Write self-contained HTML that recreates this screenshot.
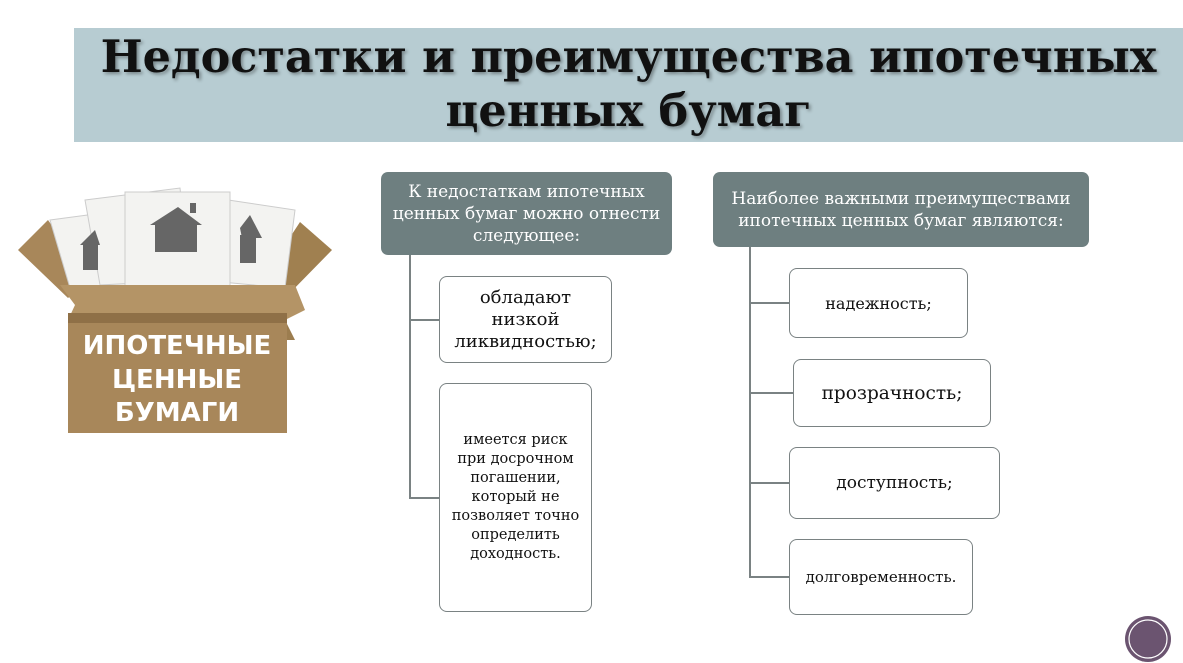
<!DOCTYPE html>
<html><head><meta charset="utf-8"><style>
body{margin:0;width:1183px;height:662px;background:#fff;position:relative;overflow:hidden;font-family:"DejaVu Serif","Liberation Serif",serif}
.a{position:absolute}
.t{left:74px;top:28px;width:1109px;height:114px;background:#b7ccd2}
.tt{left:74px;top:30px;width:1109px;text-align:center;font-size:44.5px;font-weight:bold;line-height:54px;color:#111;text-shadow:2px 2px 3px rgba(0,0,0,.35);white-space:nowrap}
.h{background:#6e7f80;color:#fff;border-radius:7px;display:flex;align-items:center;justify-content:center;text-align:center;font-size:17px;line-height:22px;white-space:nowrap}
.b{background:#fff;border:1.3px solid #7a8283;border-radius:8px;display:flex;align-items:center;justify-content:center;text-align:center;color:#111;box-sizing:border-box;white-space:nowrap}
.l{background:#7a8283}
</style></head><body>
<div class="a t"></div>
<div class="a tt">Недостатки и преимущества ипотечных<br>ценных бумаг</div>

<svg class="a" style="left:0;top:170px" width="350" height="280">
<polygon points="18,80 48,50 90,110 68,128" fill="#a8875a"/>
<polygon points="332,80 300,52 262,110 285,128" fill="#a08050"/>
<g fill="#f3f3f1" stroke="#ccc">
<polygon points="50,50 140,38 150,115 70,118"/>
<polygon points="85,30 180,18 190,110 100,115"/>
<polygon points="215,28 295,40 285,118 200,110"/>
<rect x="125" y="22" width="105" height="95"/>
</g>
<polygon points="82,150 285,150 295,170 70,170" fill="#9c7d4f"/>
<polygon points="60,115 295,115 305,140 285,150 68,150 75,135" fill="#b49466"/>
<rect x="68" y="143" width="219" height="120" fill="#a8875a"/>
<rect x="68" y="143" width="219" height="10" fill="#8f7047"/>
<g fill="#666"><polygon points="150,55 178,37 202,55"/><rect x="155" y="55" width="42" height="27"/><rect x="190" y="33" width="6" height="10"/>
<polygon points="80,75 95,60 100,75"/><rect x="83" y="75" width="15" height="25"/>
<polygon points="240,58 250,45 262,68 242,68"/><rect x="240" y="65" width="16" height="28"/></g>
<g font-family="DejaVu Sans,sans-serif" font-weight="bold" font-size="26" fill="#fff" text-anchor="middle">
<text x="177" y="184">ИПОТЕЧНЫЕ</text><text x="177" y="218">ЦЕННЫЕ</text><text x="177" y="251">БУМАГИ</text></g>
</svg>

<div class="a h" style="left:381px;top:172px;width:291px;height:83px">К недостаткам ипотечных<br>ценных бумаг можно отнести<br>следующее:</div>
<div class="a l" style="left:409px;top:255px;width:1.5px;height:243px"></div>
<div class="a l" style="left:409px;top:319px;width:30px;height:1.5px"></div>
<div class="a l" style="left:409px;top:497px;width:30px;height:1.5px"></div>
<div class="a b" style="left:439px;top:276px;width:173px;height:87px;font-size:18px;line-height:22px">обладают<br>низкой<br>ликвидностью;</div>
<div class="a b" style="left:439px;top:383px;width:153px;height:229px;font-size:14.5px;line-height:19px">имеется риск<br>при досрочном<br>погашении,<br>который не<br>позволяет точно<br>определить<br>доходность.</div>

<div class="a h" style="left:713px;top:172px;width:376px;height:75px">Наиболее важными преимуществами<br>ипотечных ценных бумаг являются:</div>
<div class="a l" style="left:749px;top:247px;width:1.5px;height:330px"></div>
<div class="a l" style="left:749px;top:302px;width:40px;height:1.5px"></div>
<div class="a l" style="left:749px;top:392px;width:44px;height:1.5px"></div>
<div class="a l" style="left:749px;top:482px;width:40px;height:1.5px"></div>
<div class="a l" style="left:749px;top:576px;width:40px;height:1.5px"></div>
<div class="a b" style="left:789px;top:268px;width:179px;height:70px;font-size:16px">надежность;</div>
<div class="a b" style="left:793px;top:359px;width:198px;height:68px;font-size:18.5px">прозрачность;</div>
<div class="a b" style="left:789px;top:447px;width:211px;height:72px;font-size:17px">доступность;</div>
<div class="a b" style="left:789px;top:539px;width:184px;height:76px;font-size:15px">долговременность.</div>

<svg class="a" style="left:1124px;top:615px" width="48" height="48"><circle cx="24" cy="24" r="23" fill="#6b5470"/><circle cx="24" cy="24" r="19" fill="none" stroke="#fff" stroke-width="1.2"/></svg>
</body></html>
